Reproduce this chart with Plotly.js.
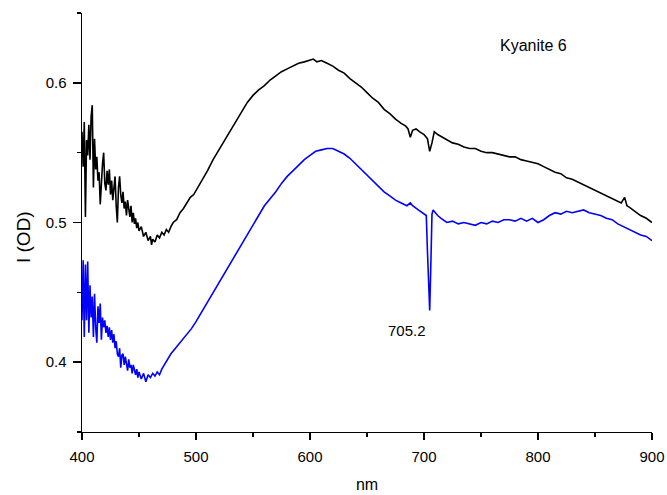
<!DOCTYPE html>
<html>
<head>
<meta charset="utf-8">
<script src="https://cdn.plot.ly/plotly-3.0.1.min.js"></script>
<style>html,body{margin:0;padding:0;background:#fff}#chart{width:667px;height:495px}</style>
</head>
<body>
<div id="chart"></div>
<script>
// Black spectrum (upper)
const blackNm = [400,401,402,403,404,405,406,407,408,409,410,411,412,413,414,415,416,417,418,419,420,421,422,423,424,425,426,427,428,429,430,431,432,433,434,435,436,437,438,439,440,441,442,443,444,445,446,447,448,449,450,452,454,456,458,460,461,462,464,466,468,470,472,474,476,478,480,483,486,489,492,495,498,501,504,507,510,515,520,525,530,535,540,545,550,555,560,565,570,575,580,585,590,595,600,603,606,610,615,620,625,630,635,640,645,650,655,660,665,670,675,680,684,686,688,690,693,696,700,703,705,707,709,712,716,720,725,730,735,740,745,750,755,760,765,770,775,780,785,790,795,800,805,810,815,820,825,830,835,840,845,850,855,860,865,870,873,876,878,880,885,890,895,900];
const blackOD = [0.565,0.540,0.572,0.504,0.559,0.548,0.570,0.545,0.576,0.584,0.525,0.560,0.538,0.547,0.530,0.536,0.513,0.531,0.542,0.550,0.528,0.523,0.537,0.527,0.538,0.520,0.530,0.516,0.526,0.533,0.512,0.500,0.525,0.533,0.520,0.514,0.522,0.510,0.515,0.505,0.516,0.509,0.504,0.512,0.500,0.507,0.499,0.503,0.496,0.500,0.494,0.497,0.490,0.493,0.487,0.490,0.484,0.488,0.486,0.491,0.489,0.493,0.491,0.495,0.493,0.497,0.500,0.502,0.507,0.510,0.514,0.518,0.520,0.524,0.528,0.532,0.537,0.545,0.552,0.559,0.566,0.573,0.580,0.586,0.591,0.595,0.598,0.602,0.605,0.608,0.610,0.612,0.614,0.615,0.616,0.617,0.615,0.616,0.614,0.612,0.609,0.607,0.603,0.600,0.597,0.593,0.589,0.586,0.581,0.578,0.574,0.571,0.569,0.567,0.561,0.566,0.567,0.565,0.563,0.560,0.551,0.557,0.565,0.563,0.561,0.559,0.557,0.556,0.554,0.553,0.553,0.551,0.550,0.550,0.549,0.548,0.547,0.547,0.545,0.544,0.543,0.542,0.540,0.538,0.536,0.535,0.532,0.531,0.529,0.527,0.525,0.523,0.521,0.519,0.517,0.515,0.514,0.518,0.512,0.511,0.508,0.505,0.503,0.500];

// Blue spectrum (lower)
const blueNm = [400,401,402,403,404,405,406,407,408,409,410,411,412,413,414,415,416,417,418,419,420,421,422,423,424,425,426,427,428,429,430,431,432,433,434,435,436,437,438,439,440,441,442,443,444,445,446,447,448,449,450,452,454,456,458,460,462,464,466,468,470,472,474,476,478,480,482,484,486,488,490,493,496,500,505,510,515,520,525,530,535,540,545,550,555,560,565,570,575,580,585,590,595,600,605,610,615,620,625,630,635,640,645,650,655,660,665,670,675,680,685,688,690,695,700,702,703,704,705,706,707,708,710,712,715,718,720,725,730,735,740,745,750,755,760,765,770,775,780,785,790,795,800,805,810,815,820,825,830,835,840,845,850,855,860,865,870,875,880,885,890,895,900];
const blueOD = [0.430,0.473,0.418,0.470,0.430,0.472,0.421,0.455,0.432,0.447,0.418,0.449,0.425,0.414,0.440,0.428,0.442,0.416,0.432,0.425,0.430,0.421,0.426,0.418,0.425,0.416,0.423,0.414,0.420,0.410,0.415,0.406,0.404,0.410,0.396,0.405,0.406,0.398,0.404,0.400,0.394,0.402,0.396,0.398,0.392,0.398,0.393,0.391,0.395,0.389,0.393,0.388,0.392,0.386,0.391,0.389,0.392,0.390,0.393,0.391,0.395,0.398,0.400,0.403,0.406,0.408,0.410,0.412,0.414,0.416,0.418,0.421,0.424,0.429,0.436,0.442,0.449,0.456,0.464,0.471,0.478,0.485,0.492,0.499,0.506,0.512,0.517,0.522,0.528,0.533,0.537,0.541,0.545,0.548,0.551,0.552,0.553,0.553,0.551,0.549,0.546,0.542,0.538,0.534,0.530,0.526,0.522,0.519,0.516,0.514,0.512,0.514,0.512,0.509,0.506,0.505,0.480,0.457,0.437,0.470,0.506,0.509,0.507,0.505,0.503,0.501,0.500,0.501,0.499,0.500,0.499,0.498,0.500,0.499,0.501,0.500,0.502,0.502,0.501,0.503,0.501,0.503,0.500,0.502,0.505,0.507,0.506,0.508,0.507,0.508,0.509,0.507,0.506,0.505,0.503,0.502,0.499,0.497,0.495,0.493,0.491,0.490,0.487];

const xTickVals = [400,500,600,700,800,900];
const yTickVals = [0.4,0.5,0.6];
const yTickText = ['0.4','0.5','0.6'];

const font = 'Liberation Sans, Arial, sans-serif';

const traces = [
  {x: blackNm, y: blackOD, type: 'scatter', mode: 'lines', line: {color: '#000000', width: 1.6}, hoverinfo: 'skip'},
  {x: blueNm, y: blueOD, type: 'scatter', mode: 'lines', line: {color: '#0000ff', width: 1.6}, hoverinfo: 'skip'}
];

const layout = {
  width: 667, height: 495,
  margin: {l: 82, r: 15, t: 13, b: 63},
  paper_bgcolor: '#ffffff', plot_bgcolor: '#ffffff',
  showlegend: false,
  font: {family: font, size: 15, color: '#000'},
  xaxis: {
    range: [400, 900], showgrid: false, zeroline: false,
    showline: true, linecolor: '#000', linewidth: 1.4,
    ticks: 'outside', ticklen: 7, tickwidth: 1.4, tickcolor: '#000',
    tickvals: xTickVals, ticklabelstandoff: 4,
    minor: {ticks: 'outside', ticklen: 4, tickwidth: 1.4, tickcolor: '#000', dtick: 50, tick0: 450},
    tickfont: {family: font, size: 15},
    title: {text: 'nm', font: {family: font, size: 16}, standoff: 14}
  },
  yaxis: {
    range: [0.35, 0.65], showgrid: false, zeroline: false,
    showline: true, linecolor: '#000', linewidth: 1.4,
    ticks: 'outside', ticklen: 8, tickwidth: 1.4, tickcolor: '#000',
    tickvals: yTickVals, ticktext: yTickText, ticklabelstandoff: 3,
    minor: {ticks: 'outside', ticklen: 4, tickwidth: 1.4, tickcolor: '#000', dtick: 0.05, tick0: 0.35},
    tickfont: {family: font, size: 15}
  },
  annotations: [
    {text: 'I (OD)', textangle: -90, x: -0.1035, y: 0.4896, xref: 'paper', yref: 'y', xanchor: 'center', yanchor: 'middle', showarrow: false, font: {family: font, size: 19}},
    {text: 'Kyanite 6', x: 796, y: 0.627, xref: 'x', yref: 'y', showarrow: false, font: {family: font, size: 16}},
    {text: '705.2', x: 685, y: 0.423, xref: 'x', yref: 'y', showarrow: false, font: {family: font, size: 15}}
  ]
};

Plotly.newPlot('chart', traces, layout, {staticPlot: true, displayModeBar: false});
</script>
</body>
</html>
